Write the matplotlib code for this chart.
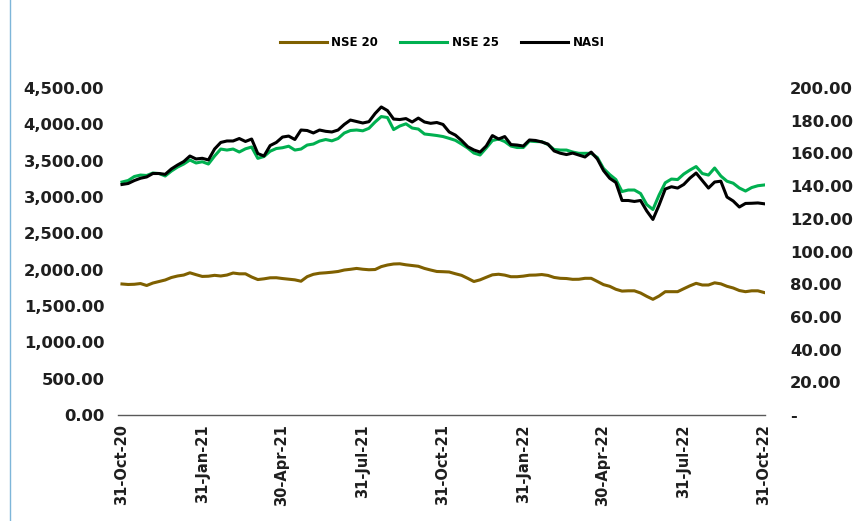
import matplotlib
matplotlib.use("Agg")
import matplotlib.pyplot as plt
import matplotlib.dates as mdates
from matplotlib.ticker import FuncFormatter, MultipleLocator
import pandas as pd

plt.rcParams['font.family'] = ['DejaVu Sans']
plt.rcParams['font.weight'] = 'bold'

start = pd.Timestamp('2020-10-31')
end = pd.Timestamp('2022-10-31')
dates = pd.date_range(start, end, periods=105)

nse20 = [1803, 1796, 1799, 1809, 1782, 1816, 1837, 1858, 1892, 1913,
         1926, 1957, 1931, 1907, 1910, 1922, 1913, 1926, 1954, 1943,
         1943, 1899, 1864, 1874, 1888, 1889, 1878, 1869, 1860, 1841,
         1904, 1936, 1951, 1957, 1965, 1975, 1995, 2005, 2017, 2006,
         1999, 2002, 2042, 2064, 2078, 2081, 2067, 2057, 2047, 2017,
         1995, 1975, 1972, 1968, 1944, 1922, 1881, 1837, 1860, 1895,
         1929, 1937, 1925, 1903, 1903, 1911, 1924, 1926, 1933, 1921,
         1893, 1881, 1878, 1867, 1868, 1881, 1881, 1838, 1794, 1771,
         1730, 1705, 1709, 1709, 1679, 1633, 1592, 1637, 1697, 1697,
         1697, 1738, 1778, 1812, 1789, 1789, 1819, 1805, 1771, 1748,
         1713, 1697, 1709, 1709, 1686]

nse25 = [3206, 3227, 3282, 3302, 3296, 3330, 3323, 3289, 3357, 3412,
         3454, 3509, 3468, 3485, 3454, 3564, 3660, 3646, 3660, 3619,
         3663, 3688, 3532, 3557, 3630, 3667, 3678, 3699, 3646, 3660,
         3715, 3729, 3770, 3791, 3773, 3805, 3880, 3915, 3922, 3911,
         3945, 4032, 4107, 4094, 3928, 3977, 4007, 3949, 3935, 3867,
         3857, 3846, 3832, 3807, 3780, 3729, 3674, 3605, 3578, 3674,
         3777, 3798, 3763, 3701, 3681, 3681, 3770, 3763, 3761, 3722,
         3653, 3646, 3646, 3619, 3601, 3601, 3601, 3543, 3392, 3309,
         3240, 3075, 3096, 3096, 3048, 2896, 2828, 3027, 3196, 3247,
         3240, 3316, 3371, 3419, 3323, 3302, 3399, 3289, 3217, 3190,
         3124, 3082, 3130, 3155, 3165]

nasi = [141.0, 141.6, 143.4, 144.8, 145.6, 147.7, 147.7, 147.2, 150.5, 152.9,
        155.0, 158.4, 156.6, 157.0, 156.0, 162.7, 166.7, 167.6, 167.6, 169.1,
        167.3, 168.8, 159.9, 158.4, 164.8, 166.7, 170.0, 170.6, 168.5, 174.3,
        174.0, 172.5, 174.3, 173.5, 173.1, 174.3, 177.7, 180.4, 179.5, 178.6,
        179.4, 184.4, 188.4, 186.2, 181.0, 180.7, 181.3, 179.2, 181.6, 179.2,
        178.4, 178.9, 177.7, 173.1, 171.2, 167.9, 164.1, 162.1, 160.8, 164.5,
        170.9, 168.8, 170.3, 165.4, 165.1, 164.5, 168.2, 167.9, 167.0, 165.7,
        161.5, 160.1, 159.3, 160.2, 159.0, 157.8, 160.8, 156.6, 149.5, 144.8,
        142.2, 131.2, 131.2, 130.6, 131.2, 124.8, 119.6, 128.4, 138.2, 139.6,
        138.8, 141.0, 144.9, 148.0, 143.4, 138.8, 142.5, 143.0, 133.3, 130.9,
        127.2, 129.4, 129.5, 129.7, 129.2]

tick_dates = ['2020-10-31', '2021-01-31', '2021-04-30', '2021-07-31', '2021-10-31',
              '2022-01-31', '2022-04-30', '2022-07-31', '2022-10-31']

fig = plt.figure(figsize=(8.6, 5.21), dpi=100)
ax = fig.add_axes([117.5 / 860, 106 / 521, (765 - 117.5) / 860, 327 / 521])
ax2 = ax.twinx()

l1, = ax.plot(dates, nse20, color='#7F6000', lw=2.2, label='NSE 20')
l2, = ax.plot(dates, nse25, color='#00B050', lw=2.2, label='NSE 25')
l3, = ax2.plot(dates, nasi, color='#000000', lw=2.2, label='NASI')

ax.set_xlim(start - pd.Timedelta(days=5.1), end + pd.Timedelta(days=1.1))
ax.set_ylim(0, 4500)
ax2.set_ylim(0, 200)
ax.yaxis.set_major_locator(MultipleLocator(500))
ax2.yaxis.set_major_locator(MultipleLocator(20))
ax.yaxis.set_major_formatter(FuncFormatter(lambda v, p: f'{v:,.2f}'))
ax2.yaxis.set_major_formatter(FuncFormatter(lambda v, p: '-' if abs(v) < 1e-9 else f'{v:,.2f}'))

ax.set_xticks(pd.to_datetime(tick_dates))
ax.xaxis.set_major_formatter(mdates.DateFormatter('%d-%b-%y'))
for lab in ax.get_xticklabels():
    lab.set_rotation(90)

for a in (ax, ax2):
    for s in ('top', 'left', 'right'):
        a.spines[s].set_visible(False)
ax2.spines['bottom'].set_visible(False)
ax.spines['bottom'].set_color('#595959')
ax.spines['bottom'].set_linewidth(1.0)

tc = '#1f1f1f'
ax.tick_params(axis='y', length=0, pad=9.5, labelsize=11.8, labelcolor=tc)
ax2.tick_params(axis='y', length=0, pad=18, labelsize=11.8, labelcolor=tc)
ax.tick_params(axis='x', length=0, pad=6.5, labelsize=10.5, labelcolor=tc)

fig.legend(handles=[l1, l2, l3], loc='center', bbox_to_anchor=(442 / 860, 1 - 43 / 521),
           ncol=3, frameon=False, fontsize=8.5, handlelength=4.0, columnspacing=1.86,
           handletextpad=0.38)

fig.add_artist(plt.Line2D([9.5 / 860, 9.5 / 860], [0, 1], transform=fig.transFigure,
                          color='#7EB6D9', lw=1.0))

fig.savefig('out.png', dpi=100)
